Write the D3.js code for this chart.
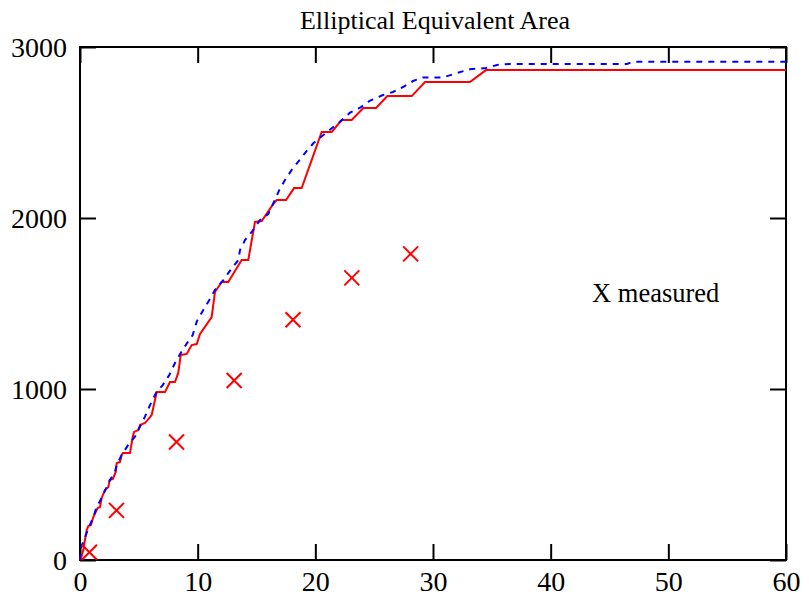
<!DOCTYPE html>
<html>
<head>
<meta charset="utf-8">
<script src="https://cdn.jsdelivr.net/npm/d3@7"></script>
<style>
  body { margin: 0; background: #fff; }
  svg { display: block; }
</style>
</head>
<body>
<div id="chart"></div>
<script>
// Red solid curve (x, area)
const redX = [0, 0.14, 0.28, 0.42, 0.57, 0.71, 0.93, 1.13, 1.5, 1.7, 1.84, 2.12, 2.41, 2.52, 2.8, 3.03, 3.12, 3.4, 3.54, 3.65, 4.25, 4.48, 4.59, 4.95, 5.1, 5.52, 5.95, 6.09, 6.52, 7.22, 7.65, 8.07, 8.35, 8.56, 9.07, 9.49, 9.92, 10.2, 11.19, 11.47, 12.04, 12.6, 13.74, 14.3, 14.87, 15.44, 16.43, 16.72, 17.51, 18.19, 18.84, 20.54, 21.39, 22.24, 23.09, 24.08, 25.16, 26.12, 28.19, 29.32, 33.14, 34.5, 60];
const redY = [0, 23, 58, 117, 175, 199, 205, 251, 304, 310, 363, 409, 427, 468, 474, 515, 567, 573, 614, 626, 626, 719, 749, 760, 789, 801, 836, 848, 982, 982, 1041, 1041, 1094, 1199, 1205, 1257, 1263, 1322, 1421, 1567, 1626, 1626, 1754, 1754, 1977, 1982, 2082, 2105, 2105, 2175, 2175, 2503, 2503, 2573, 2573, 2643, 2643, 2713, 2713, 2795, 2795, 2865, 2865];

// Blue dashed curve
const blueX = [0, 0.08, 0.57, 0.85, 1.13, 1.42, 1.84, 2.27, 2.55, 2.97, 3.12, 3.54, 4.1, 4.67, 5.1, 5.52, 5.95, 6.46, 7.03, 7.59, 8.07, 8.56, 9.12, 9.58, 9.92, 10.48, 10.99, 11.47, 12.18, 12.75, 13.45, 13.6, 14.02, 14.73, 15.3, 16.0, 16.43, 16.94, 17.42, 17.99, 18.55, 19.21, 19.83, 20.68, 21.39, 22.1, 22.95, 23.85, 24.65, 25.75, 26.6, 27.45, 28.3, 29.15, 30.85, 32.04, 33.14, 34.5, 35.44, 36.54, 46.49, 47.0, 60];
const blueY = [0, 70, 158, 205, 251, 310, 363, 427, 468, 515, 556, 614, 673, 721, 780, 838, 906, 977, 1023, 1082, 1152, 1211, 1271, 1316, 1394, 1462, 1520, 1579, 1637, 1692, 1754, 1813, 1871, 1930, 1988, 2023, 2086, 2164, 2222, 2281, 2329, 2388, 2437, 2485, 2525, 2563, 2616, 2647, 2686, 2719, 2737, 2766, 2801, 2822, 2822, 2848, 2870, 2877, 2895, 2901, 2901, 2914, 2914];

// Measured points
const measX = [0.8, 3.1, 8.2, 13.1, 18.1, 23.1, 28.1];
const measY = [45, 290, 690, 1050, 1405, 1650, 1790];

const xTicks = [0, 10, 20, 30, 40, 50, 60];
const yTicks = [0, 1000, 2000, 3000];

const width = 809, height = 597;
const margin = { top: 47, right: 23, bottom: 37, left: 80 };
const fontFamily = "'Liberation Serif', 'Times New Roman', serif";

const svg = d3.select("#chart")
  .append("svg")
  .attr("width", width)
  .attr("height", height)
  .style("font-family", fontFamily);

const x = d3.scaleLinear().domain([0, 60]).range([margin.left, width - margin.right]);
const y = d3.scaleLinear().domain([0, 3000]).range([height - margin.bottom, margin.top]);

const tickLen = 16;
const fmt = d3.format("d");

// Axes with inward ticks on all four sides
const gBottom = svg.append("g")
  .attr("transform", `translate(0,${y(0)})`)
  .call(d3.axisBottom(x).tickValues(xTicks).tickSize(-tickLen).tickPadding(11).tickFormat(fmt));
const gTop = svg.append("g")
  .attr("transform", `translate(0,${y(3000)})`)
  .call(d3.axisTop(x).tickValues(xTicks).tickSize(-tickLen).tickFormat(""));
const gLeft = svg.append("g")
  .attr("transform", `translate(${x(0)},0)`)
  .call(d3.axisLeft(y).tickValues(yTicks).tickSize(-tickLen).tickPadding(13).tickFormat(fmt));
const gRight = svg.append("g")
  .attr("transform", `translate(${x(60)},0)`)
  .call(d3.axisRight(y).tickValues(yTicks).tickSize(-tickLen).tickFormat(""));

[gBottom, gTop, gLeft, gRight].forEach((g) => {
  g.select(".domain").remove();
  g.selectAll(".tick line").attr("stroke", "#000").attr("stroke-width", 2);
  g.selectAll("text")
    .attr("fill", "#000")
    .style("font-family", fontFamily)
    .style("font-size", "28px");
});
gBottom.selectAll("text").attr("dy", "0.71em");
gLeft.selectAll("text").attr("dy", "0.34em");

// Frame
svg.append("rect")
  .attr("x", x(0))
  .attr("y", y(3000))
  .attr("width", x(60) - x(0))
  .attr("height", y(0) - y(3000))
  .attr("fill", "none")
  .attr("stroke", "#000")
  .attr("stroke-width", 2);

const line = d3.line().x((d) => x(d[0])).y((d) => y(d[1]));

const redData = redX.map((v, i) => [v, redY[i]]);
const blueData = blueX.map((v, i) => [v, blueY[i]]);

svg.append("path")
  .datum(redData)
  .attr("d", line)
  .attr("fill", "none")
  .attr("stroke", "#ff0000")
  .attr("stroke-width", 2);

svg.append("path")
  .datum(blueData)
  .attr("d", line)
  .attr("fill", "none")
  .attr("stroke", "#0000ff")
  .attr("stroke-width", 2)
  .attr("stroke-dasharray", "6,6");

// X markers
const s = 7.5;
svg.append("g")
  .selectAll("path")
  .data(measX.map((v, i) => [v, measY[i]]))
  .join("path")
  .attr("d", (d) => {
    const cx = x(d[0]), cy = y(d[1]);
    return `M${cx - s},${cy - s}L${cx + s},${cy + s}M${cx - s},${cy + s}L${cx + s},${cy - s}`;
  })
  .attr("stroke", "#ff0000")
  .attr("stroke-width", 2)
  .attr("fill", "none");

// Title
svg.append("text")
  .attr("x", 435)
  .attr("y", 29)
  .attr("text-anchor", "middle")
  .style("font-size", "26px")
  .attr("fill", "#000")
  .text("Elliptical Equivalent Area");

// Label
svg.append("text")
  .attr("x", 592)
  .attr("y", 302)
  .style("font-size", "26.5px")
  .attr("fill", "#000")
  .text("X measured");
</script>
</body>
</html>
